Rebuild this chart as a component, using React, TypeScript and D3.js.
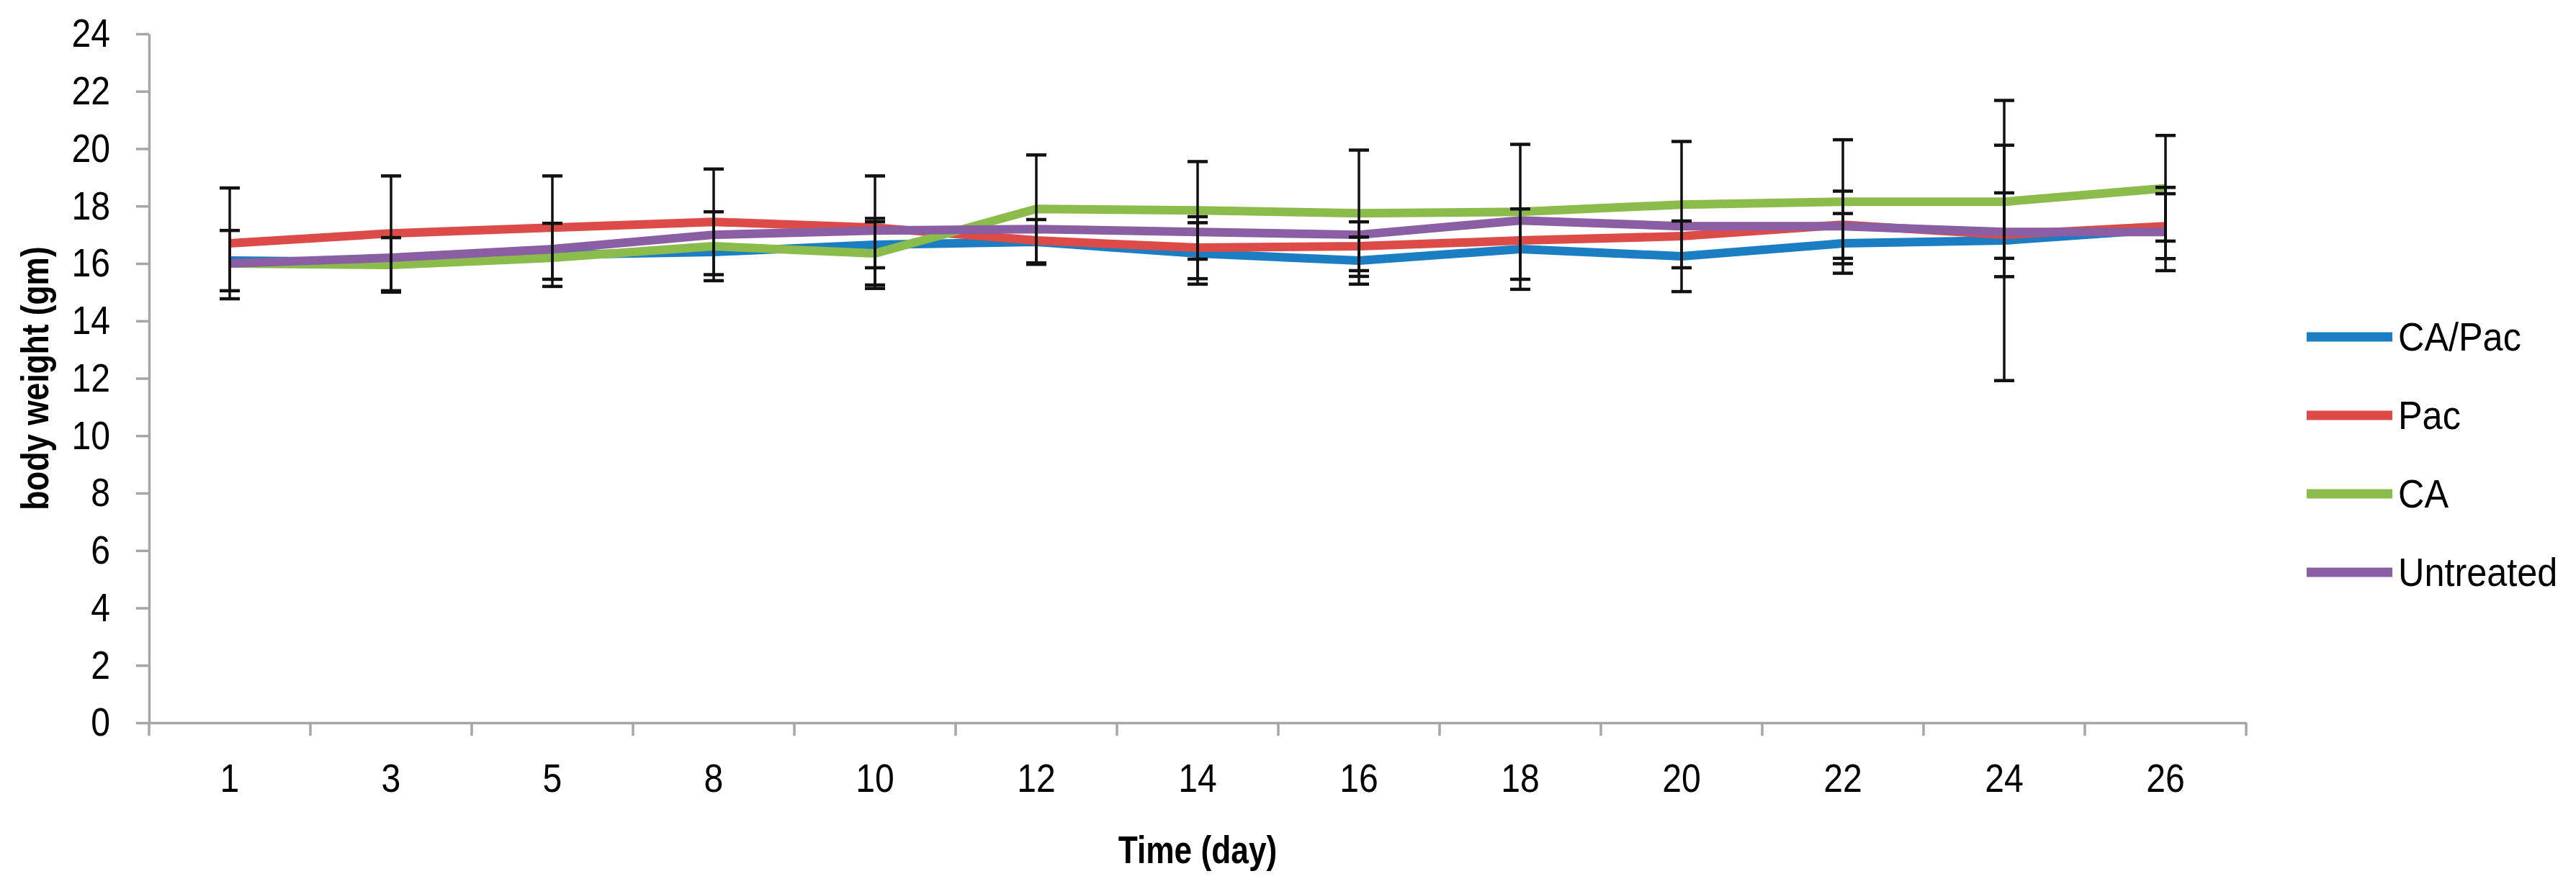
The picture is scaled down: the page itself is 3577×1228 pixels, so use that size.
import * as d3 from 'd3';
import { useEffect, useRef } from 'react';

// day labels on the category axis
const days = ['1', '3', '5', '8', '10', '12', '14', '16', '18', '20', '22', '24', '26'];

// mean body weight (gm) per group
const caPac = [16.1, 16.05, 16.3, 16.4, 16.65, 16.75, 16.35, 16.1, 16.5, 16.25, 16.7, 16.8, 17.2];
const pac = [16.7, 17.05, 17.25, 17.45, 17.25, 16.8, 16.55, 16.6, 16.8, 16.95, 17.35, 17.0, 17.3];
const ca = [16.0, 15.95, 16.2, 16.6, 16.35, 17.9, 17.85, 17.75, 17.8, 18.05, 18.15, 18.15, 18.62];
const untreated = [16.0, 16.2, 16.5, 17.0, 17.15, 17.2, 17.1, 17.0, 17.5, 17.3, 17.3, 17.1, 17.1];

// error bar half-widths (0 = bar hidden under the line)
const caPacErr = [1.05, 0, 1.1, 0, 0.8, 0.78, 1.07, 0.82, 1.4, 1.23, 1.04, 4.88, 1.45];
const pacErr = [1.93, 2.0, 1.8, 1.84, 0, 0, 1.08, 0.85, 0, 0, 1.17, 1.46, 1.13];
const caErr = [0, 0.95, 0, 1.2, 1.22, 1.88, 1.7, 2.2, 2.35, 2.2, 2.16, 1.97, 1.84];
const untreatedErr = [0, 0, 0, 0, 1.9, 0, 0, 0, 0, 0, 0, 0, 0];

const seriesNames = ['CA/Pac', 'Pac', 'CA', 'Untreated'];
const seriesColors = ['#1b7ec2', '#dd4b48', '#8bbb4b', '#8a5ea3'];

const yTicks = [0, 2, 4, 6, 8, 10, 12, 14, 16, 18, 20, 22, 24];

const FONT = "'Liberation Sans', Arial, sans-serif";
const SX = 0.86; // the original font is narrower than Liberation Sans
const SX_BOLD = 0.82;

export default function App() {
  const ref = useRef<SVGSVGElement | null>(null);

  useEffect(() => {
    if (!ref.current) return;
    document.body.style.margin = '0';

    const svg = d3.select(ref.current);
    svg.selectAll('*').remove();

    const width = 3577;
    const height = 1228;
    svg.attr('viewBox', `0 0 ${width} ${height}`);

    const left = 207;
    const right = 3119;
    const top = 47;
    const bottom = 1004;

    const x = d3.scaleBand().domain(days).range([left, right]);
    const cx = (d: string) => x(d)! + x.bandwidth() / 2;
    const y = d3.scaleLinear().domain([0, 24]).range([bottom, top]);

    const series = [
      { name: seriesNames[0], color: seriesColors[0], values: caPac, err: caPacErr },
      { name: seriesNames[1], color: seriesColors[1], values: pac, err: pacErr },
      { name: seriesNames[2], color: seriesColors[2], values: ca, err: caErr },
      { name: seriesNames[3], color: seriesColors[3], values: untreated, err: untreatedErr },
    ];

    // Y axis
    const yAxis = svg.append('g')
      .attr('transform', `translate(${left},0)`)
      .call(d3.axisLeft(y).tickValues(yTicks).tickSize(18).tickSizeOuter(0).tickPadding(36));
    yAxis.select('.domain').attr('stroke', '#a6a6a6').attr('stroke-width', 3.5);
    yAxis.selectAll('.tick line').attr('stroke', '#a6a6a6').attr('stroke-width', 3.5);
    yAxis.selectAll('.tick text')
      .attr('x', -54 / SX)
      .attr('transform', `scale(${SX},1)`)
      .style('font-family', FONT)
      .style('font-size', '56px')
      .style('fill', '#000');

    // X axis (labels at centres, ticks on band edges)
    const xAxis = svg.append('g')
      .attr('transform', `translate(0,${bottom})`)
      .call(d3.axisBottom(x).tickSize(0).tickSizeOuter(0).tickPadding(56));
    xAxis.select('.domain').attr('stroke', '#a6a6a6').attr('stroke-width', 3.5);
    xAxis.selectAll('.tick text')
      .attr('transform', `scale(${SX},1)`)
      .style('font-family', FONT)
      .style('font-size', '56px')
      .style('fill', '#000');
    svg.append('g')
      .selectAll('line')
      .data([...days.map((d) => x(d)!), right])
      .join('line')
      .attr('x1', (d) => d)
      .attr('x2', (d) => d)
      .attr('y1', bottom)
      .attr('y2', bottom + 18)
      .attr('stroke', '#a6a6a6')
      .attr('stroke-width', 3.5);

    // Lines
    const line = d3.line<number>()
      .x((_, i) => cx(days[i]))
      .y((v) => y(v));

    svg.append('g')
      .selectAll('path')
      .data(series)
      .join('path')
      .attr('d', (s) => line(s.values))
      .attr('fill', 'none')
      .attr('stroke', (s) => s.color)
      .attr('stroke-width', 12)
      .attr('stroke-linejoin', 'round');

    // Error bars
    const bars = series.flatMap((s) =>
      s.values.map((v, i) => ({ day: days[i], v, e: s.err[i] })).filter((d) => d.e > 0)
    );
    const eb = svg.append('g').attr('stroke', '#111');
    eb.selectAll('line.stem')
      .data(bars)
      .join('line')
      .attr('class', 'stem')
      .attr('x1', (d) => cx(d.day))
      .attr('x2', (d) => cx(d.day))
      .attr('y1', (d) => y(d.v + d.e))
      .attr('y2', (d) => y(d.v - d.e))
      .attr('stroke-width', 3.5);
    eb.selectAll('line.capTop')
      .data(bars)
      .join('line')
      .attr('class', 'capTop')
      .attr('x1', (d) => cx(d.day) - 14)
      .attr('x2', (d) => cx(d.day) + 14)
      .attr('y1', (d) => y(d.v + d.e))
      .attr('y2', (d) => y(d.v + d.e))
      .attr('stroke-width', 4.5);
    eb.selectAll('line.capBot')
      .data(bars)
      .join('line')
      .attr('class', 'capBot')
      .attr('x1', (d) => cx(d.day) - 14)
      .attr('x2', (d) => cx(d.day) + 14)
      .attr('y1', (d) => y(d.v - d.e))
      .attr('y2', (d) => y(d.v - d.e))
      .attr('stroke-width', 4.5);

    // Axis titles
    svg.append('text')
      .attr('transform', `translate(${(left + right) / 2},1180) scale(${SX_BOLD},1)`)
      .attr('text-anchor', 'middle')
      .attr('dominant-baseline', 'central')
      .style('font-family', FONT)
      .style('font-size', '54px')
      .style('font-weight', 'bold')
      .text('Time (day)');

    svg.append('text')
      .attr('transform', `translate(48,${(top + bottom) / 2}) rotate(-90) scale(${SX_BOLD},1)`)
      .attr('text-anchor', 'middle')
      .attr('dominant-baseline', 'central')
      .style('font-family', FONT)
      .style('font-size', '54px')
      .style('font-weight', 'bold')
      .text('body weight (gm)');

    // Legend
    const legend = svg.append('g')
      .selectAll('g')
      .data(series)
      .join('g')
      .attr('transform', (_, i) => `translate(3203,${468 + i * 109})`);
    legend.append('line')
      .attr('x1', 0)
      .attr('x2', 119)
      .attr('stroke', (s) => s.color)
      .attr('stroke-width', 13);
    legend.append('text')
      .attr('transform', `translate(127,0) scale(0.9,1)`)
      .attr('dominant-baseline', 'central')
      .style('font-family', FONT)
      .style('font-size', '56px')
      .style('fill', '#000')
      .text((s) => s.name);
  }, []);

  return <svg ref={ref} width={3577} height={1228} style={{ display: 'block', background: '#fff' }} />;
}
